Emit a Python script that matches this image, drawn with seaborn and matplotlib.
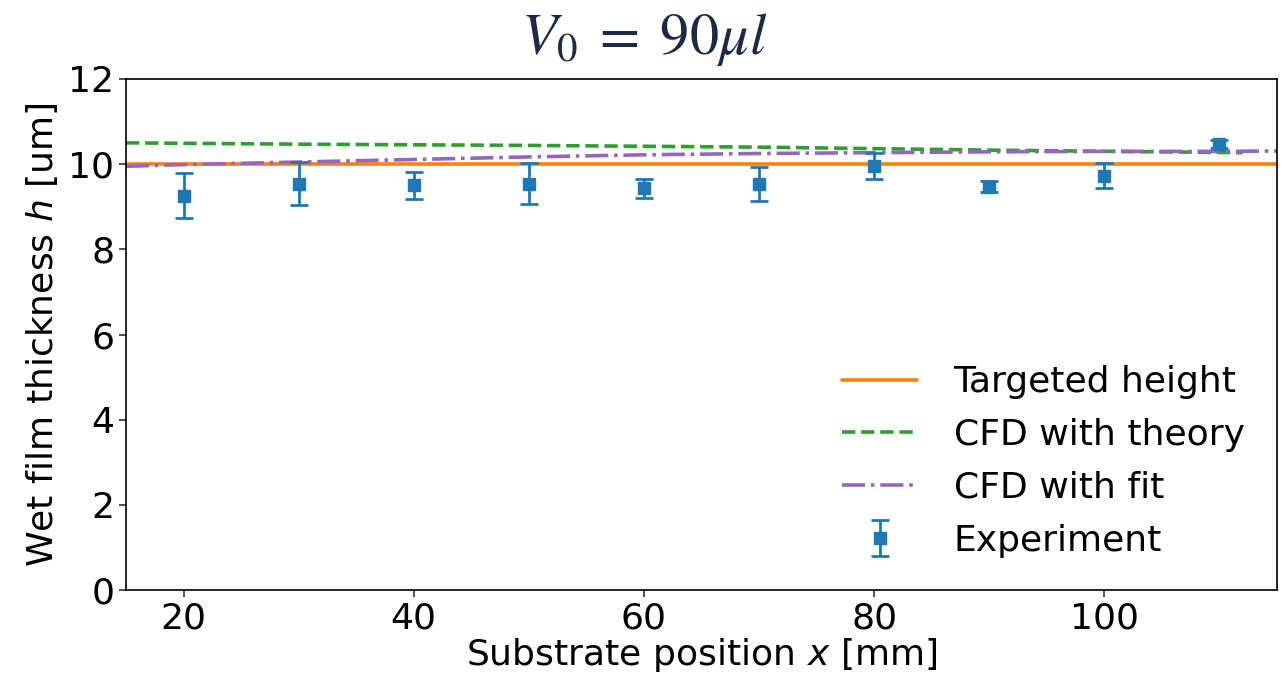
import numpy as np
import pandas as pd
import matplotlib
matplotlib.use("Agg")
import matplotlib.pyplot as plt
import seaborn as sns

# Data
exp_x = [20, 30, 40, 50, 60, 70, 80, 90, 100, 110]
exp_h = [9.26, 9.54, 9.50, 9.54, 9.43, 9.54, 9.96, 9.47, 9.73, 10.47]
exp_err = [0.53, 0.50, 0.31, 0.48, 0.22, 0.40, 0.30, 0.13, 0.30, 0.10]

target_x = [15, 115]
target_h = [10.0, 10.0]

theory_x = [15, 30, 50, 70, 90, 112]
theory_h = [10.50, 10.47, 10.44, 10.40, 10.33, 10.27]

fit_x = [15, 20, 30, 40, 50, 60, 70, 80, 90, 100, 110, 115]
fit_h = [9.95, 9.99, 10.05, 10.11, 10.17, 10.22, 10.25, 10.27, 10.29, 10.30, 10.30, 10.31]

sns.set_style("ticks")
plt.rcParams['font.family'] = ['DejaVu Sans']
plt.rcParams['mathtext.fontset'] = 'dejavusans'
plt.rcParams['text.color'] = 'black'
plt.rcParams['axes.labelcolor'] = 'black'
plt.rcParams['xtick.color'] = 'black'
plt.rcParams['ytick.color'] = 'black'

fig = plt.figure(figsize=(12.88, 6.81), dpi=100)
ax = fig.add_axes([0.0978, 0.1336, 0.8937, 0.7504])

fs = 26
sns.lineplot(x=target_x, y=target_h, ax=ax, color="#ff7f0e", lw=2.6, label="Targeted height")
sns.lineplot(x=theory_x, y=theory_h, ax=ax, color="#2ca02c", lw=2.6, linestyle="--", label="CFD with theory")
sns.lineplot(x=fit_x, y=fit_h, ax=ax, color="#9467bd", lw=2.6, linestyle="-.", label="CFD with fit")
ax.errorbar(exp_x, exp_h, yerr=exp_err, fmt="s", color="#1f77b4", markersize=9,
            elinewidth=2, capsize=6.5, capthick=2, label="Experiment", zorder=3)

ax.set_xlim(15, 115)
ax.set_ylim(0, 12)
ax.set_xticks([20, 40, 60, 80, 100])
ax.set_yticks([0, 2, 4, 6, 8, 10, 12])
ax.tick_params(labelsize=fs, length=5, width=1.2, color="#333333", labelcolor="black")
for s in ax.spines.values():
    s.set_visible(True)
    s.set_color("black")
    s.set_linewidth(1.2)

ax.set_xlabel("Substrate position $x$ [mm]", fontsize=fs, labelpad=0, color="black")
ax.set_ylabel("Wet film thickness $h$ [um]", fontsize=fs, labelpad=6, color="black")

ax.legend(loc="lower right", frameon=False, fontsize=fs, handlelength=2.1,
          borderaxespad=0.5, labelspacing=0.52, handletextpad=1.0)

fig.text(0.5, 0.942, r"$V_0\;=\;90\mu l$", ha="center", va="center",
         fontsize=42, color="#1b2b45", math_fontfamily="stix")

fig.savefig("out.png", dpi=100)
